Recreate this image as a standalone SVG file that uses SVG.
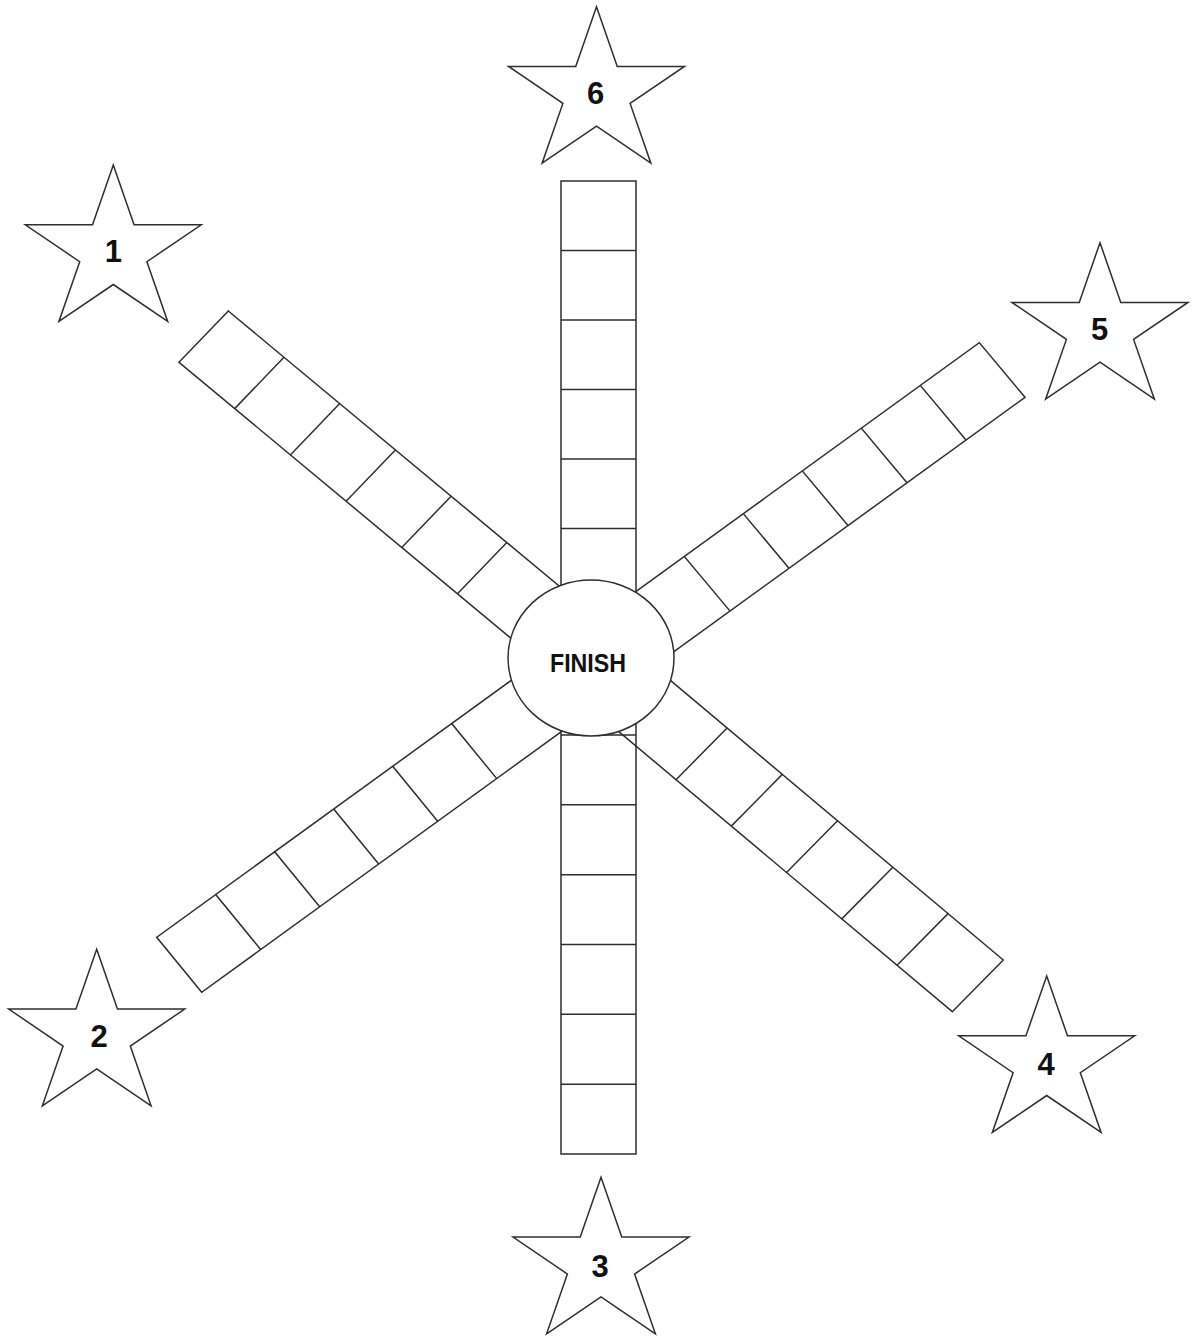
<svg xmlns="http://www.w3.org/2000/svg" width="1196" height="1337" viewBox="0 0 1196 1337">
  <style>
    .trk { fill: none; stroke: #2e2e2e; stroke-width: 1.5; stroke-linecap: square; }
    .star { fill: #ffffff; stroke: #2e2e2e; stroke-width: 1.5; stroke-linejoin: miter; }
    .num { font-family: "Liberation Sans", Arial, sans-serif; font-weight: bold; font-size: 31px; fill: #111111; text-anchor: middle; }
    .fin { fill: #ffffff; stroke: #2e2e2e; stroke-width: 1.5; }
    .fintxt { font-family: "Liberation Sans", Arial, sans-serif; font-weight: bold; font-size: 25px; fill: #111111; }
  </style>
  <defs>
    <path id="starShape" d="M0,-86.5 L20.77,-26.72 L87.97,-26.72 L33.6,10.21 L54.37,69.97 L0,33.03 L-54.37,69.97 L-33.6,10.21 L-87.97,-26.72 L-20.77,-26.72 Z"/>
  </defs>
  <rect width="1196" height="1337" fill="#ffffff"/>

  <g id="tracks">
    <g id="arm-6">
      <path class="trk" d="M561,181 L636,181 M561,181 L561,640 M636,181 L636,640 M561,250.5 L636,250.5 M561,320 L636,320 M561,389.5 L636,389.5 M561,459 L636,459 M561,528.5 L636,528.5"/>
    </g>
    <g id="arm-3">
      <path class="trk" d="M561,1154 L636,1154 M561,700 L561,1154 M636,700 L636,1154 M561,735 L636,735 M561,804.8 L636,804.8 M561,874.7 L636,874.7 M561,944.5 L636,944.5 M561,1014.3 L636,1014.3 M561,1084.2 L636,1084.2"/>
    </g>
    <g id="arm-1">
      <path class="trk" d="M179,362.3 L228.3,311 M179,362.3 L541.1,663.3 M228.3,311 L590.4,612 M234.7,408.6 L284,357.3 M290.4,454.9 L339.7,403.6 M346.1,501.2 L395.4,449.9 M401.8,547.5 L451.1,496.2 M457.5,593.8 L506.8,542.5"/>
    </g>
    <g id="arm-4">
      <path class="trk" d="M952.3,1011.7 L1003.3,960 M952.3,1011.7 L593.2,710.1 M1003.3,960 L644.2,658.4 M897.05,965.3 L948.05,913.6 M841.8,918.9 L892.8,867.2 M786.55,872.5 L837.55,820.8 M731.3,826.1 L782.3,774.4 M676.05,779.7 L727.05,728"/>
    </g>
    <g id="arm-5">
      <path class="trk" d="M979.3,342.7 L1025,397.3 M979.3,342.7 L595.8,620.6 M1025,397.3 L641.5,675.2 M920.3,385.45 L966,440.05 M861.3,428.2 L907,482.8 M802.3,470.95 L848,525.55 M743.3,513.7 L789,568.3 M684.3,556.45 L730,611.05"/>
    </g>
    <g id="arm-2">
      <path class="trk" d="M156.7,937.3 L201.7,992.3 M156.7,937.3 L540.2,659.4 M201.7,992.3 L585.2,714.4 M215.7,894.55 L260.7,949.55 M274.7,851.8 L319.7,906.8 M333.7,809.05 L378.7,864.05 M392.7,766.3 L437.7,821.3 M451.7,723.55 L496.7,778.55"/>
    </g>
  </g>

  <g id="finish">
    <ellipse class="fin" cx="591" cy="658" rx="83" ry="78"/>
    <text class="fintxt" x="550" y="671.5" textLength="76" lengthAdjust="spacingAndGlyphs">FINISH</text>
  </g>

  <g id="star-1">
    <use href="#starShape" class="star" x="113.3" y="251.5"/>
    <text class="num" x="113.3" y="262">1</text>
  </g>
  <g id="star-2">
    <use href="#starShape" class="star" x="96.7" y="1035.8"/>
    <text class="num" x="99" y="1047">2</text>
  </g>
  <g id="star-3">
    <use href="#starShape" class="star" x="601" y="1263.8"/>
    <text class="num" x="600" y="1276.5">3</text>
  </g>
  <g id="star-4">
    <use href="#starShape" class="star" x="1046.7" y="1062.5"/>
    <text class="num" x="1046" y="1075">4</text>
  </g>
  <g id="star-5">
    <use href="#starShape" class="star" x="1100" y="329.2"/>
    <text class="num" x="1099.5" y="339.5">5</text>
  </g>
  <g id="star-6">
    <use href="#starShape" class="star" x="596.5" y="93.2"/>
    <text class="num" x="595.5" y="104">6</text>
  </g>
</svg>
